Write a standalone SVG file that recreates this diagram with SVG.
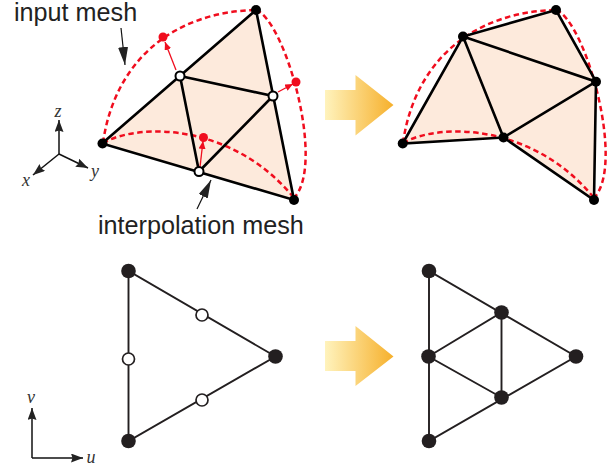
<svg xmlns="http://www.w3.org/2000/svg" width="613" height="467" viewBox="0 0 613 467">
<style>
.fill{fill:#fdeadc;stroke:none}
.e{stroke:#000;stroke-width:2.6;fill:none;stroke-linecap:round}
.d{stroke:#f00d1e;stroke-width:2.5;fill:none;stroke-dasharray:5.500 3.500}
.b{stroke:#231f20;stroke-width:1.9;fill:none}
.s{stroke:#111;stroke-width:1.2;fill:none}
.x{stroke:#111;stroke-width:1.5;fill:none}
.r{stroke:#f00d1e;stroke-width:1.3;fill:none}
.lab{font-family:"Liberation Sans",Arial,sans-serif;font-size:25.2px;fill:#222}
.ax{font-family:"Liberation Serif","Times New Roman",serif;font-style:italic;font-size:18px;fill:#333;text-anchor:middle}
.n{fill:#000}.nb{fill:#231f20}.o{fill:#fff;stroke:#000;stroke-width:2}.ob{fill:#fff;stroke:#231f20;stroke-width:1.7}.rn{fill:#f00d1e}
</style>
<defs>
<linearGradient id="g"><stop offset="0" stop-color="#fff3bd"/><stop offset="1" stop-color="#f6b02c"/></linearGradient>
<marker id="ak" markerUnits="userSpaceOnUse" markerWidth="20" markerHeight="12" refX="18" refY="5" orient="auto"><path d="M0 0L18 5L0 10Z" fill="#222"/></marker>
<marker id="ax" markerUnits="userSpaceOnUse" markerWidth="14" markerHeight="10" refX="12" refY="4.500" orient="auto"><path d="M0 0L12 4.500L0 9L1.500 4.500Z" fill="#222"/></marker>
<marker id="ar" markerUnits="userSpaceOnUse" markerWidth="10" markerHeight="8" refX="8" refY="3.500" orient="auto"><path d="M0 0L8 3.500L0 7Z" fill="#f00d1e"/></marker>
</defs>
<g id="connectors">
<polygon class="fill" points="102,143.500 256,10 294,200"/>
<path class="d" d="M103 143C114 64 170 12 256 10"/>
<path class="d" d="M256 10C285 20 326 164 294 198"/>
<path class="d" d="M103 143C140 122 234 124 294 198"/>
<path class="e" d="M102 143.500L256 10L294 200ZM180 76L273 96L199 171.500ZM180 76L199 171.500"/>
<path class="r" marker-end="url(#ar)" d="M176 70L165 42"/>
<path class="r" marker-end="url(#ar)" d="M278 92L293 84"/>
<path class="r" marker-end="url(#ar)" d="M200 167L203 141"/>
<path class="s" marker-end="url(#ak)" d="M121 28L125 65"/>
<path class="s" marker-end="url(#ak)" d="M197 209L211 180"/>
<path class="x" marker-end="url(#ax)" d="M59 154V120"/>
<path class="x" marker-end="url(#ax)" d="M59 154L33 175"/>
<path class="x" marker-end="url(#ax)" d="M59 154L88 168"/>
<path d="M325 90H355.500V75L393.500 105L355.500 135.500V120H325Z" fill="url(#g)"/>
<path class="fill" d="M403 143.500L463 36.500L556 10L596 81.700L594 200L503.500 137.500Z"/>
<path class="d" d="M403 143C414 64 470 12 556 10"/>
<path class="d" d="M556 10C585 20 626 164 594 198"/>
<path class="d" d="M403 143C440 122 534 124 594 198"/>
<path class="e" d="M402.700 143.500L463 36.500L556 10L596 81.700L594 200L503.500 137.500ZM463 36.500L596 81.700L503.500 137.500ZM463 36.500L503.500 137.500"/>
<path class="b" d="M128.500 271V441L275.500 356.500Z"/>
<path class="x" marker-end="url(#ax)" d="M32 458V408"/>
<path class="x" marker-end="url(#ax)" d="M32 458H83"/>
<path d="M325 341H355.500V326L393.500 356.500L355.500 386V371H325Z" fill="url(#g)"/>
<path class="b" d="M429 271V441L576 356.500ZM428.500 356.500L501.500 312.500V397.500Z"/>
</g>
<g id="n-a"><circle class="n" cx="102.500" cy="143.500" r="5"/></g>
<g id="n-b"><circle class="n" cx="256" cy="10" r="5"/></g>
<g id="n-c"><circle class="n" cx="294" cy="200" r="5"/></g>
<g id="n-m1"><circle class="o" cx="180" cy="76" r="4.500"/></g>
<g id="n-m2"><circle class="o" cx="273" cy="96" r="4.500"/></g>
<g id="n-m3"><circle class="o" cx="199" cy="171.500" r="4.500"/></g>
<g id="n-r1"><circle class="rn" cx="163" cy="37" r="4.500"/></g>
<g id="n-r2"><circle class="rn" cx="296" cy="82" r="4.500"/></g>
<g id="n-r3"><circle class="rn" cx="203.500" cy="137.500" r="4.500"/></g>
<g id="n-ra"><circle class="n" cx="402.700" cy="143.500" r="5"/></g>
<g id="n-rb"><circle class="n" cx="463" cy="36.500" r="5"/></g>
<g id="n-rc"><circle class="n" cx="556" cy="10" r="5"/></g>
<g id="n-rd"><circle class="n" cx="596" cy="81.700" r="5"/></g>
<g id="n-re"><circle class="n" cx="503.500" cy="137.500" r="5"/></g>
<g id="n-rf"><circle class="n" cx="594" cy="200" r="5"/></g>
<g id="n-b1"><circle class="nb" cx="128.500" cy="271" r="7.300"/></g>
<g id="n-b2"><circle class="nb" cx="128.500" cy="441" r="7.300"/></g>
<g id="n-b3"><circle class="nb" cx="275.500" cy="356.500" r="7.300"/></g>
<g id="n-b4"><circle class="ob" cx="202" cy="315" r="6"/></g>
<g id="n-b5"><circle class="ob" cx="128.500" cy="359" r="6"/></g>
<g id="n-b6"><circle class="ob" cx="202" cy="400" r="6"/></g>
<g id="n-c1"><circle class="nb" cx="429" cy="271" r="7.300"/></g>
<g id="n-c2"><circle class="nb" cx="429" cy="441" r="7.300"/></g>
<g id="n-c3"><circle class="nb" cx="576" cy="356.500" r="7.300"/></g>
<g id="n-c4"><circle class="nb" cx="501.500" cy="312.500" r="7.300"/></g>
<g id="n-c5"><circle class="nb" cx="428.500" cy="356.500" r="7.300"/></g>
<g id="n-c6"><circle class="nb" cx="501.500" cy="397.500" r="7.300"/></g>
<text class="lab" x="14" y="20.500">input mesh</text>
<text class="lab" x="98" y="234">interpolation mesh</text>
<text class="ax" x="58" y="117">z</text>
<text class="ax" x="26" y="186">x</text>
<text class="ax" x="95" y="177">y</text>
<text class="ax" x="31" y="403">v</text>
<text class="ax" x="91" y="463">u</text>
</svg>
